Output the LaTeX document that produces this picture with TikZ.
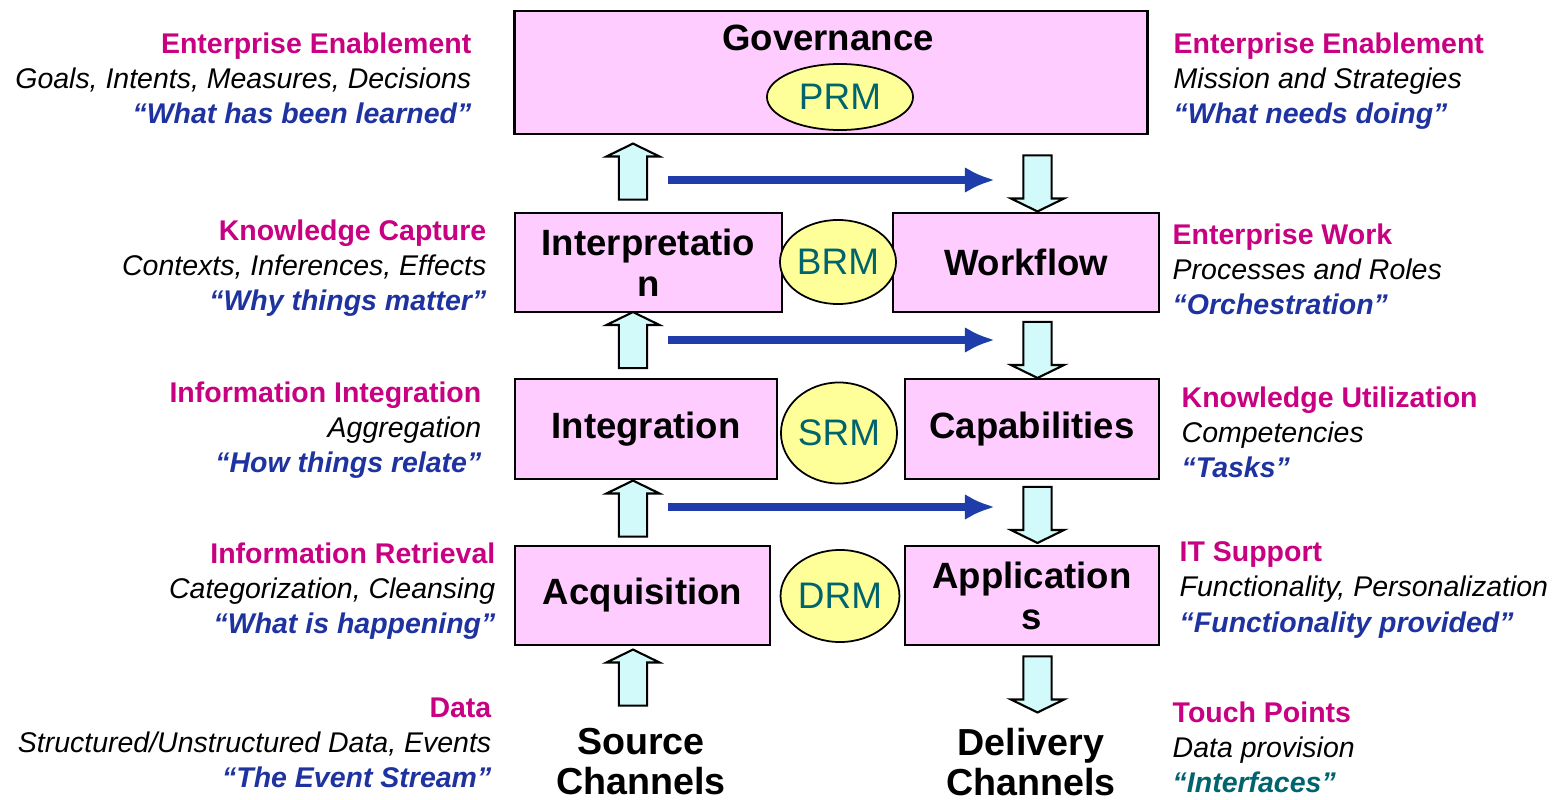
\documentclass[tikz,border=0pt]{standalone}
\usepackage{fontspec}
\setmainfont{Liberation Sans}
\usepackage{xcolor}
\usepackage{tikz}
\usetikzlibrary{arrows.meta,positioning,shapes.geometric,shapes.arrows}
\definecolor{boxpink}{RGB}{255,204,255}
\definecolor{refyellow}{RGB}{255,255,153}
\definecolor{pipecyan}{RGB}{210,250,250}
\definecolor{flowblue}{RGB}{30,60,170}
\definecolor{headmagenta}{RGB}{200,0,130}
\definecolor{quoteblue}{RGB}{30,50,160}
\definecolor{refteal}{RGB}{0,100,110}
\tikzset{
  layer/.style={draw=black, line width=0.8pt, fill=boxpink, align=center,
                inner sep=0pt, font=\fontsize{10.4}{11.7}\selectfont\bfseries},
  refmodel/.style={ellipse, draw=black, line width=0.5pt, fill=refyellow,
                   inner sep=0pt, text=refteal, font=\fontsize{10.5}{12}\selectfont},
  uppipe/.style={single arrow, shape border rotate=90, draw=black, line width=0.6pt,
                 fill=pipecyan, inner sep=0.13cm, minimum height=0.56cm,
                 minimum width=0.51cm, single arrow head extend=0.125cm,
                 single arrow tip angle=128},
  downpipe/.style={uppipe, shape border rotate=270},
  flow/.style={-{Latex[length=3mm, width=2.6mm]}, line width=2pt, draw=flowblue},
  notel/.style={anchor=east, align=right, inner sep=0pt, font=\fontsize{8.1}{10}\selectfont},
  noter/.style={anchor=west, align=left, inner sep=0pt, font=\fontsize{8.1}{10}\selectfont},
  channel/.style={align=center, inner sep=0pt, font=\fontsize{10.7}{11.4}\selectfont\bfseries}
}
\newcommand{\headtxt}[1]{{\color{headmagenta}\bfseries #1}}
\newcommand{\quotetxt}[1]{{\color{quoteblue}\bfseries\itshape “#1”}}

\begin{document}
\begin{tikzpicture}[x=0.01cm, y=-0.01cm]
  \useasboundingbox (0,0) rectangle (1559,800);

  % layers
  \node[layer, minimum width=6.32cm, minimum height=1.23cm] (gov) at (831,72.5) {};
  \node[font=\fontsize{10.4}{11.7}\selectfont\bfseries] (govtxt) at (828,38) {Governance};
  \node[refmodel, minimum width=1.46cm, minimum height=0.66cm] (prm) at (840,97) {PRM};

  \node[layer, minimum width=2.67cm, minimum height=0.99cm] (interp) at (648.5,262.5) {Interpretatio\\n};
  \node[layer, minimum width=2.66cm, minimum height=0.99cm] (work) at (1026,262.5) {Workflow};
  \node[refmodel, minimum width=0.98cm, minimum height=0.84cm] (brm) at (838,262) {BRM};

  \node[layer, minimum width=2.62cm, minimum height=1.00cm] (integ) at (646,429) {Integration};
  \node[layer, minimum width=2.54cm, minimum height=1.00cm] (capab) at (1032,429) {Capabilities};
  \node[refmodel, minimum width=1.06cm, minimum height=1.01cm] (srm) at (839,433) {SRM};

  \node[layer, minimum width=2.55cm, minimum height=0.99cm] (acq) at (642.5,595.5) {Acquisition};
  \node[layer, minimum width=2.54cm, minimum height=0.99cm] (appl) at (1032,595.5) {Application\\s};
  \node[refmodel, minimum width=1.06cm, minimum height=0.92cm] (drm) at (840,596) {DRM};

  \node[channel] (src) at (641,762) {Source\\Channels};
  \node[channel] (dlv) at (1031,762) {Delivery\\Channels};

  % block arrows
  \node[uppipe] (u1) at (633,175) {};
  \node[uppipe] (u2) at (633,343.5) {};
  \node[uppipe] (u3) at (633,512) {};
  \node[uppipe] (u4) at (633,681) {};
  \node[downpipe] (d1) at (1037.5,180) {};
  \node[downpipe] (d2) at (1037.5,346.5) {};
  \node[downpipe] (d3) at (1037.5,511.5) {};
  \node[downpipe] (d4) at (1037.5,681) {};

  \foreach \i/\y in {1/180,2/340,3/507} {
    \coordinate (fs\i) at (668,\y);
    \coordinate (fe\i) at (995,\y);
    \draw[flow] (fs\i) -- (fe\i);
  }

  % left notes
  \node[notel] (nl1) at (472,78) {\headtxt{Enterprise Enablement}\\ \textit{Goals, Intents, Measures, Decisions}\\ \quotetxt{What has been learned}};
  \node[notel] (nl2) at (487,268) {\headtxt{Knowledge Capture}\\ \textit{Contexts, Inferences, Effects}\\ \quotetxt{Why things matter}};
  \node[notel] (nl3) at (482,430) {\headtxt{Information Integration}\\ \textit{Aggregation}\\ \quotetxt{How things relate}};
  \node[notel] (nl4) at (496,591) {\headtxt{Information Retrieval}\\ \textit{Categorization, Cleansing}\\ \quotetxt{What is happening}};
  \node[notel] (nl5) at (492,743) {\headtxt{Data}\\ \textit{Structured/Unstructured Data, Events}\\ \quotetxt{The Event Stream}};

  % right notes
  \node[noter] (nr1) at (1173,81) {\headtxt{Enterprise Enablement}\\ \textit{Mission and Strategies}\\ \quotetxt{What needs doing}};
  \node[noter] (nr2) at (1172,269) {\headtxt{Enterprise Work}\\ \textit{Processes and Roles}\\ \quotetxt{Orchestration}};
  \node[noter] (nr3) at (1181,432) {\headtxt{Knowledge Utilization}\\ \textit{Competencies}\\ \quotetxt{Tasks}};
  \node[noter] (nr4) at (1179,590) {\headtxt{IT Support}\\ \textit{Functionality, Personalization}\\ \quotetxt{Functionality provided}};
  \node[noter] (nr5) at (1172,747) {\headtxt{Touch Points}\\ \textit{Data provision}\\ {\color{refteal}\bfseries\itshape “Interfaces”}};
\end{tikzpicture}
\end{document}
